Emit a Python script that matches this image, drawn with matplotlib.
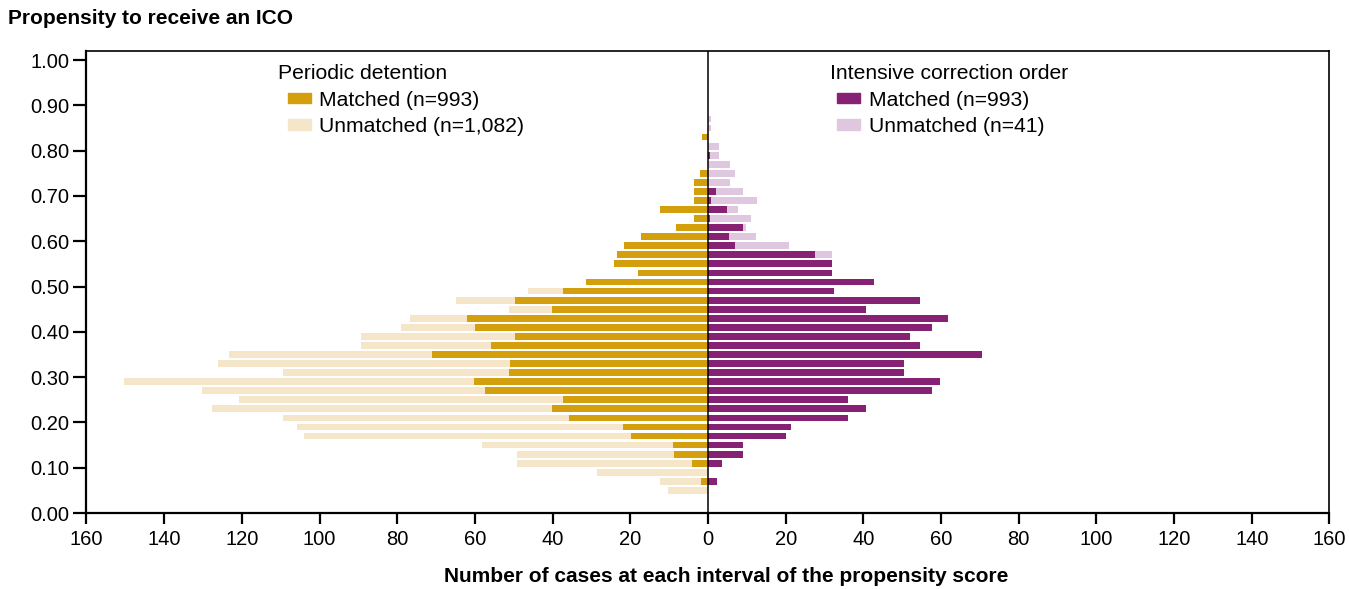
import numpy as np
import matplotlib
matplotlib.use("Agg")
import matplotlib.pyplot as plt
from matplotlib.patches import Patch
from matplotlib.ticker import FuncFormatter, MultipleLocator

plt.rcParams['font.family'] = ['Liberation Sans', 'DejaVu Sans']

# propensity score bins (bin centres), bottom to top
scores = [0.05, 0.07, 0.09, 0.11, 0.13, 0.15, 0.17, 0.19, 0.21, 0.23,
          0.25, 0.27, 0.29, 0.31, 0.33, 0.35, 0.37, 0.39, 0.41, 0.43,
          0.45, 0.47, 0.49, 0.51, 0.53, 0.55, 0.57, 0.59, 0.61, 0.63,
          0.65, 0.67, 0.69, 0.71, 0.73, 0.75, 0.77, 0.79, 0.81, 0.83,
          0.85, 0.87]

# periodic detention (left side)
pd_matched = [0, 1.8, 0, 4.1, 8.8, 9.1, 19.9, 22.0, 35.9, 40.1,
              37.2, 57.4, 60.3, 51.2, 50.9, 71.1, 55.9, 49.7, 60.0, 62.1,
              40.1, 49.7, 37.2, 31.3, 18.1, 24.3, 23.5, 21.5, 17.3, 8.3,
              3.6, 12.4, 3.6, 3.6, 3.6, 2.1, 0, 0, 0, 1.5,
              0, 0]
pd_unmatched = [10.3, 10.6, 28.5, 45.1, 40.4, 49.1, 84.0, 83.9, 73.6, 87.6,
                83.5, 72.9, 90.1, 58.3, 75.2, 52.2, 33.5, 39.7, 18.9, 14.7,
                11.1, 15.2, 9.1, 0, 0, 0, 0, 0, 0, 0,
                0, 0, 0, 0, 0, 0, 0, 0, 0, 0,
                0, 0]

# intensive correction order (right side)
ico_matched = [0, 2.2, 0, 3.5, 9.0, 9.0, 20.1, 21.4, 36.1, 40.8,
               36.1, 57.6, 59.7, 50.6, 50.6, 70.5, 54.7, 51.9, 57.6, 61.7,
               40.8, 54.7, 32.5, 42.8, 32.0, 32.0, 27.6, 6.9, 5.3, 9.0,
               0.4, 4.8, 0.7, 2.0, 0, 0, 0, 0.5, 0, 0,
               0, 0]
ico_unmatched = [0, 0, 0, 0, 0, 0, 0, 0, 0, 0,
                 0, 0, 0, 0, 0, 0, 0, 0, 0, 0,
                 0, 0, 0, 0, 0, 0, 4.4, 14.0, 7.0, 0.7,
                 10.6, 2.9, 11.9, 7.0, 5.6, 6.9, 5.6, 2.3, 2.8, 0,
                 0.7, 0.7]

GOLD = '#d49f0c'
GOLD_LIGHT = '#f5e6ca'
PURPLE = '#862173'
PURPLE_LIGHT = '#dfc7df'

y = np.array(scores)
pm = np.array(pd_matched)
pu = np.array(pd_unmatched)
im = np.array(ico_matched)
iu = np.array(ico_unmatched)
h = 0.015

fig = plt.figure(figsize=(13.49, 5.89), dpi=100)
ax = fig.add_axes([0.0641, 0.129, 0.9214, 0.7844])

ax.barh(y, -pm, height=h, color=GOLD, linewidth=0)
ax.barh(y, -pu, left=-pm, height=h, color=GOLD_LIGHT, linewidth=0)
ax.barh(y, im, height=h, color=PURPLE, linewidth=0)
ax.barh(y, iu, left=im, height=h, color=PURPLE_LIGHT, linewidth=0)
ax.axvline(0, color='black', lw=1.1, zorder=3)

ax.set_xlim(-160, 160)
ax.set_ylim(0, 1.02)
ax.xaxis.set_major_locator(MultipleLocator(20))
ax.yaxis.set_major_locator(MultipleLocator(0.1))
ax.xaxis.set_major_formatter(FuncFormatter(lambda v, p: f"{abs(v):.0f}"))
ax.yaxis.set_major_formatter(FuncFormatter(lambda v, p: f"{v:.2f}"))
ax.tick_params(direction='out', length=8, width=1.6, labelsize=14.5,
               colors='black', pad=4)
ax.tick_params(axis='y', length=9.5, pad=3)
for s in ax.spines.values():
    s.set_linewidth(1.2)
    s.set_color('black')
ax.spines['left'].set_linewidth(1.6)
ax.spines['bottom'].set_linewidth(1.6)

fig.text(8 / 1349, 1 - 18 / 589, 'Propensity to receive an ICO',
         fontsize=15, fontweight='bold', ha='left', va='center')
fig.text(726 / 1349, 1 - 576 / 589,
         'Number of cases at each interval of the propensity score',
         fontsize=15, fontweight='bold', ha='center', va='center')

leg_kw = dict(loc='upper left', frameon=False, fontsize=15.2,
              handlelength=1.1, handleheight=0.4, handletextpad=0.4,
              labelspacing=0.36, borderpad=0, borderaxespad=0,
              alignment='left', title_fontsize=15.2)

leg1 = ax.legend(handles=[Patch(color=GOLD), Patch(color=GOLD_LIGHT)],
                 labels=['Matched (n=993)', 'Unmatched (n=1,082)'],
                 title='Periodic detention', bbox_to_anchor=(0.162, 0.972),
                 **leg_kw)
leg1.get_title().set_x(-10)
ax.add_artist(leg1)

leg2 = ax.legend(handles=[Patch(color=PURPLE), Patch(color=PURPLE_LIGHT)],
                 labels=['Matched (n=993)', 'Unmatched (n=41)'],
                 title='Intensive correction order', bbox_to_anchor=(0.604, 0.972),
                 **leg_kw)
leg2.get_title().set_x(-7)

fig.savefig('out.png', dpi=100)
